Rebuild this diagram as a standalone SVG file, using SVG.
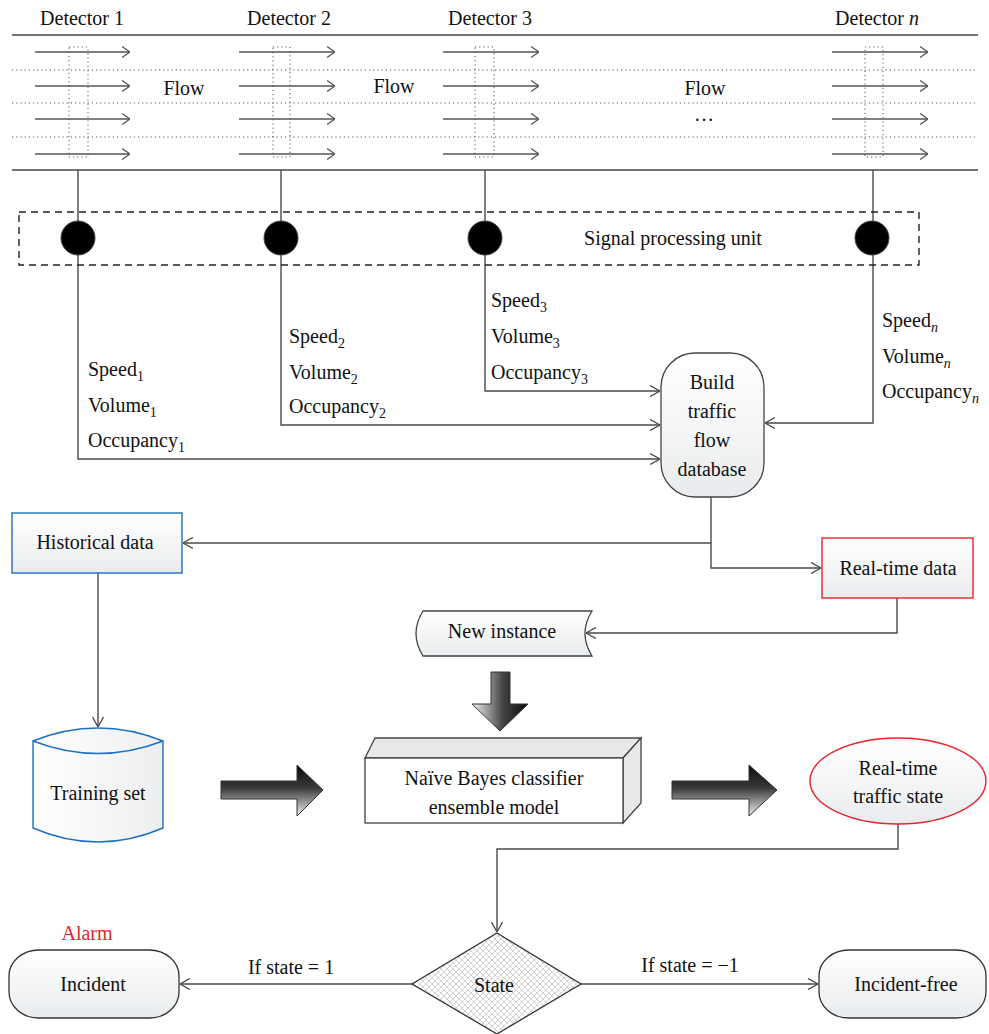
<svg xmlns="http://www.w3.org/2000/svg" width="989" height="1034" viewBox="0 0 989 1034">
<style>
text{font-family:"Liberation Serif","Times New Roman",serif;font-size:20px;fill:#111}
.c{text-anchor:middle}
.sub{font-size:14px}
.road{stroke:#444;stroke-width:1.5;fill:none}
.lane{stroke:#555;stroke-width:1;stroke-dasharray:1.2,3;fill:none}
.det{stroke:#555;stroke-width:1;stroke-dasharray:1.2,3;fill:none}
.flow{stroke:#555;stroke-width:1.4;fill:none;marker-end:url(#ra)}
.conn{stroke:#4a4a4a;stroke-width:1.4;fill:none}
.arr{marker-end:url(#ah)}
</style>
<defs>
<marker id="ah" viewBox="0 0 10 12" refX="10" refY="6" markerWidth="10" markerHeight="12" markerUnits="userSpaceOnUse" orient="auto"><path d="M0,0.5 L10,6 L0,11.5" fill="none" stroke="#4a4a4a" stroke-width="1.3"/></marker>
<marker id="ra" viewBox="0 0 8 12" refX="8" refY="6" markerWidth="8" markerHeight="12" markerUnits="userSpaceOnUse" orient="auto"><path d="M0,0.5 L8,6 L0,11.5" fill="none" stroke="#555" stroke-width="1.3"/></marker>
<linearGradient id="gv" x1="0" y1="0" x2="0" y2="1"><stop offset="0" stop-color="#ffffff"/><stop offset="1" stop-color="#e9ecee"/></linearGradient>
<linearGradient id="gh" x1="0" y1="0" x2="1" y2="0"><stop offset="0" stop-color="#ffffff"/><stop offset="1" stop-color="#eceef0"/></linearGradient>
<linearGradient id="barr" x1="0" y1="0" x2="0" y2="1"><stop offset="0" stop-color="#0a0a0a"/><stop offset="0.45" stop-color="#3a3a3a"/><stop offset="1" stop-color="#f2f2f2"/></linearGradient>
<linearGradient id="darr" x1="0" y1="0" x2="1" y2="0"><stop offset="0" stop-color="#f4f4f4"/><stop offset="0.55" stop-color="#444"/><stop offset="1" stop-color="#0a0a0a"/></linearGradient>
<pattern id="hatch" width="6" height="6" patternUnits="userSpaceOnUse"><rect width="6" height="6" fill="#fff"/><path d="M0,0 L6,6 M6,0 L0,6" stroke="#b5b5b5" stroke-width="0.6"/></pattern>
</defs>

<g id="road">
<line class="road" x1="12" y1="35" x2="978" y2="35"/>
<line class="road" x1="12" y1="170" x2="978" y2="170"/>
<line class="lane" x1="12" y1="70" x2="978" y2="70"/>
<line class="lane" x1="12" y1="103" x2="978" y2="103"/>
<line class="lane" x1="12" y1="137" x2="978" y2="137"/>
<text class="c" x="184" y="95">Flow</text>
<text class="c" x="394" y="93">Flow</text>
<text class="c" x="705" y="95">Flow</text>
<text class="c" x="704" y="121">…</text>
</g>

<g id="detector1">
<text class="c" x="82" y="25">Detector 1</text>
<rect class="det" x="69" y="47" width="19" height="110"/>
<line class="flow" x1="35" y1="52" x2="130" y2="52"/>
<line class="flow" x1="35" y1="86" x2="130" y2="86"/>
<line class="flow" x1="35" y1="119" x2="130" y2="119"/>
<line class="flow" x1="35" y1="154" x2="130" y2="154"/>
</g>
<g id="detector2">
<text class="c" x="289" y="25">Detector 2</text>
<rect class="det" x="273" y="47" width="17" height="110"/>
<line class="flow" x1="239" y1="52" x2="335" y2="52"/>
<line class="flow" x1="239" y1="86" x2="335" y2="86"/>
<line class="flow" x1="239" y1="119" x2="335" y2="119"/>
<line class="flow" x1="239" y1="154" x2="335" y2="154"/>
</g>
<g id="detector3">
<text class="c" x="490" y="25">Detector 3</text>
<rect class="det" x="475" y="47" width="19" height="110"/>
<line class="flow" x1="443" y1="52" x2="539" y2="52"/>
<line class="flow" x1="443" y1="86" x2="539" y2="86"/>
<line class="flow" x1="443" y1="119" x2="539" y2="119"/>
<line class="flow" x1="443" y1="154" x2="539" y2="154"/>
</g>
<g id="detectorn">
<text class="c" x="877" y="25">Detector <tspan font-style="italic">n</tspan></text>
<rect class="det" x="865" y="47" width="18" height="110"/>
<line class="flow" x1="832" y1="52" x2="928" y2="52"/>
<line class="flow" x1="832" y1="86" x2="928" y2="86"/>
<line class="flow" x1="832" y1="119" x2="928" y2="119"/>
<line class="flow" x1="832" y1="154" x2="928" y2="154"/>
</g>

<g id="connectors">
<path class="conn arr" d="M78,170V459H660"/>
<path class="conn arr" d="M281,170V425H660"/>
<path class="conn arr" d="M485,170V391H660"/>
<path class="conn arr" d="M873,170V423H765"/>
<path class="conn arr" d="M711,497V568H821"/>
<path class="conn arr" d="M711,543H183"/>
<path class="conn arr" d="M897,598V633H586"/>
<path class="conn arr" d="M98,573V727"/>
<path class="conn arr" d="M898,824V849H497V932"/>
<path class="conn arr" d="M412,984H180"/>
<path class="conn arr" d="M581,984H818"/>
</g>

<g id="signal-processing-unit">
<rect x="19" y="212" width="900" height="53" fill="none" stroke="#222" stroke-width="1.4" stroke-dasharray="7,5"/>
<circle cx="78" cy="238" r="17" fill="#000" stroke="#444" stroke-width="1"/>
<circle cx="281" cy="238" r="17" fill="#000" stroke="#444" stroke-width="1"/>
<circle cx="485" cy="238" r="17" fill="#000" stroke="#444" stroke-width="1"/>
<circle cx="872" cy="238" r="17" fill="#000" stroke="#444" stroke-width="1"/>
<text class="c" x="673" y="245">Signal processing unit</text>
</g>

<g id="labels1">
<text x="88" y="376">Speed<tspan class="sub" dy="5">1</tspan></text>
<text x="88" y="412">Volume<tspan class="sub" dy="5">1</tspan></text>
<text x="88" y="447">Occupancy<tspan class="sub" dy="5">1</tspan></text>
</g>
<g id="labels2">
<text x="289" y="343">Speed<tspan class="sub" dy="5">2</tspan></text>
<text x="289" y="379">Volume<tspan class="sub" dy="5">2</tspan></text>
<text x="289" y="413">Occupancy<tspan class="sub" dy="5">2</tspan></text>
</g>
<g id="labels3">
<text x="491" y="307">Speed<tspan class="sub" dy="5">3</tspan></text>
<text x="491" y="343">Volume<tspan class="sub" dy="5">3</tspan></text>
<text x="491" y="379">Occupancy<tspan class="sub" dy="5">3</tspan></text>
</g>
<g id="labelsn">
<text x="882" y="327">Speed<tspan class="sub" dy="5" font-style="italic">n</tspan></text>
<text x="882" y="363">Volume<tspan class="sub" dy="5" font-style="italic">n</tspan></text>
<text x="882" y="398">Occupancy<tspan class="sub" dy="5" font-style="italic">n</tspan></text>
</g>

<g id="build-database">
<rect x="661" y="353" width="103" height="144" rx="34" ry="34" fill="url(#gv)" stroke="#444" stroke-width="1.3"/>
<text class="c" x="712" y="389">Build</text>
<text class="c" x="712" y="418">traffic</text>
<text class="c" x="712" y="447">flow</text>
<text class="c" x="712" y="476">database</text>
</g>

<g id="historical-data">
<rect x="12" y="513" width="170" height="60" fill="url(#gv)" stroke="#1f70c1" stroke-width="1.4"/>
<text class="c" x="95" y="549">Historical data</text>
</g>

<g id="real-time-data">
<rect x="822" y="538" width="151" height="60" fill="url(#gv)" stroke="#e8242b" stroke-width="1.4"/>
<text class="c" x="898" y="575">Real-time data</text>
</g>

<g id="new-instance">
<path d="M423,611H592Q578,633.5 592,656H423Q409,633.5 423,611Z" fill="url(#gv)" stroke="#444" stroke-width="1.3"/>
<text class="c" x="502" y="638">New instance</text>
</g>

<g id="down-arrow">
<path d="M491,672H510V704H528L500,731L472,704H491Z" fill="url(#darr)" stroke="#333" stroke-width="1"/>
</g>

<g id="training-set">
<path d="M33,741Q98,715 163,741V828Q98,856 33,828Z" fill="url(#gh)" stroke="#1f70c1" stroke-width="1.4"/>
<path d="M33,741Q98,766 163,741" fill="none" stroke="#1f70c1" stroke-width="1.4"/>
<text class="c" x="98" y="800">Training set</text>
</g>

<g id="arrow-right-1">
<path d="M221,781H297V765L323,790L297,816V799H221Z" fill="url(#barr)" stroke="#333" stroke-width="1"/>
</g>

<g id="naive-bayes">
<path d="M365,758L375,738H641L623,758Z" fill="#e8e8e8" stroke="#444" stroke-width="1.3"/>
<path d="M623,758L641,738V803L623,823Z" fill="#e8e8e8" stroke="#444" stroke-width="1.3"/>
<rect x="365" y="758" width="258" height="65" fill="#fff" stroke="#444" stroke-width="1.3"/>
<text class="c" x="494" y="785">Naïve Bayes classifier</text>
<text class="c" x="494" y="814">ensemble model</text>
</g>

<g id="arrow-right-2">
<path d="M672,781H749V765L777,790L749,816V799H672Z" fill="url(#barr)" stroke="#333" stroke-width="1"/>
</g>

<g id="real-time-state">
<ellipse cx="898" cy="781" rx="88" ry="43" fill="url(#gv)" stroke="#e8242b" stroke-width="1.4"/>
<text class="c" x="898" y="775">Real-time</text>
<text class="c" x="898" y="803">traffic state</text>
</g>

<g id="state">
<path d="M497,933L581,984L497,1034L412,984Z" fill="url(#hatch)" stroke="#333" stroke-width="1.3"/>
<text class="c" x="494" y="992">State</text>
</g>

<g id="incident">
<text class="c" x="87" y="940" style="fill:#e8242b">Alarm</text>
<rect x="9" y="950" width="170" height="68" rx="30" ry="26" fill="url(#gv)" stroke="#333" stroke-width="1.3"/>
<text class="c" x="93" y="991">Incident</text>
</g>
<text class="c" x="291" y="974">If state = 1</text>
<text class="c" x="690" y="972">If state = −1</text>

<g id="incident-free">
<rect x="819" y="950" width="167" height="68" rx="30" ry="26" fill="url(#gv)" stroke="#333" stroke-width="1.3"/>
<text class="c" x="906" y="991">Incident-free</text>
</g>
</svg>
